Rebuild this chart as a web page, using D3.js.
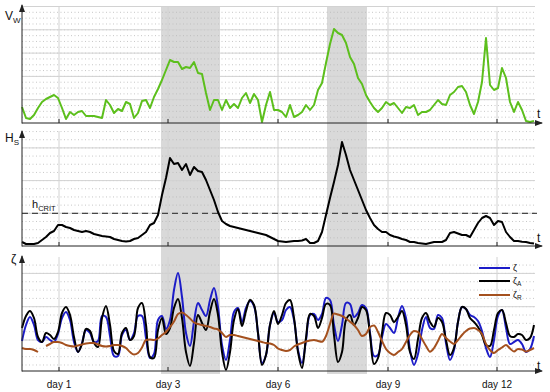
<!DOCTYPE html>
<html>
<head>
<meta charset="utf-8">
<title>wind speed, wave height and water level</title>
<script src="https://d3js.org/d3.v7.min.js"></script>
<style>
  body { margin: 0; background: #fff; }
  text { font-family: "Liberation Sans", Arial, sans-serif; fill: #111; }
</style>
</head>
<body>
<svg width="550" height="392"></svg>
<script>
// one sample every 4 time units, first sample at t = 0
const step = 4;
const dayLabels = ["day 1", "day 3", "day 6", "day 9", "day 12"];
const dayPos = [37, 146, 256, 366, 475];
const stormSpans = [[139, 198], [305, 345]];

// wind speed V_W
const vw = [16, 5, 4, 8, 15, 21, 24, 26, 28, 25, 15, 4, 11, 8, 11, 12, 7, 7, 7, 6,
  5, 23, 18, 10, 14, 12, 21, 19, 5, 10, 22, 23, 15, 26, 34, 43, 53, 63, 61, 61,
  54, 56, 55, 61, 50, 49, 30, 13, 23, 23, 13, 23, 15, 19, 15, 25, 30, 20, 29, 23,
  1, 18, 31, 13, 13, 11, 6, 18, 6, 8, 11, 18, 13, 18, 33, 40, 60, 79, 94, 90,
  88, 80, 66, 59, 45, 39, 28, 21, 15, 11, 15, 21, 18, 20, 15, 10, 16, 15, 18, 8,
  11, 11, 13, 18, 23, 19, 18, 28, 31, 36, 37, 31, 18, 9, 21, 41, 85, 38, 33, 35,
  55, 45, 21, 11, 21, 13, 2, 1, 2];

// significant wave height H_S
const hs = [4, 2, 2, 2, 3, 6, 9, 13, 15, 21, 21, 19, 18, 16, 15, 14, 15, 14, 12, 11,
  10, 9.5, 9, 7, 6, 5, 4.5, 5, 7, 8, 11, 14, 21, 23, 31, 51, 68, 88, 82, 83,
  76, 82, 71, 79, 75, 74, 66, 56, 46, 34, 25, 22, 20, 19, 18, 17, 16, 15, 14, 13,
  12, 11, 9, 7, 5, 4.5, 4, 4.5, 5, 5, 5.5, 7, 3, 3, 5, 14, 31, 48, 64, 81,
  104, 91, 76, 66, 56, 46, 36, 28, 21, 17, 14, 14, 11, 9.5, 8.5, 7, 6, 4, 4, 3,
  2.5, 2, 3, 4, 4, 4, 6, 13, 14, 12.5, 11, 11, 9, 16, 23, 28, 30, 28, 21, 25,
  24, 14, 9, 5, 5, 4.3, 4, 3, 2.5];
const hCrit = 32.7;

// water level zeta, astronomical part zeta_A, residual zeta_R
const zeta = [30, 46, 54, 46, 31, 29, 34, 31, 29, 37, 53, 59, 51, 29, 19, 28, 41, 38, 29, 30,
  55, 54, 35, 15, 15, 36, 41, 31, 38, 55, 55, 33, 13, 17, 51, 55, 42, 51, 81, 98,
  74, 38, 25, 49, 68, 61, 55, 71, 83, 64, 26, 11, 31, 59, 63, 49, 63, 70, 65, 38,
  8, 16, 46, 58, 49, 51, 61, 64, 51, 21, 8, 31, 56, 57, 51, 57, 73, 71, 46, 30,
  46, 68, 67, 54, 58, 66, 63, 38, 15, 16, 34, 47, 43, 38, 53, 65, 53, 21, 6, 17,
  41, 54, 43, 42, 56, 53, 28, 11, 21, 49, 64, 62, 56, 54, 50, 40, 23, 14, 31, 55,
  61, 43, 27, 29, 31, 27, 19, 22, 35];
const zetaA = [43, 55, 60, 53, 34, 29, 38, 36, 32, 39, 58, 64, 56, 34, 19, 27, 42, 40, 28, 24,
  53, 65, 46, 20, 17, 38, 43, 31, 35, 63, 68, 46, 14, 13, 41, 53, 37, 43, 63, 72,
  53, 19, 5, 28, 56, 48, 41, 59, 72, 56, 19, 1, 19, 51, 62, 45, 60, 71, 66, 38,
  6, 16, 46, 60, 47, 56, 68, 71, 53, 19, 3, 33, 57, 55, 43, 53, 67, 66, 36, 9,
  19, 51, 56, 46, 53, 64, 61, 36, 7, 13, 38, 58, 56, 49, 54, 60, 46, 19, 12, 32,
  53, 58, 49, 44, 53, 49, 31, 16, 23, 49, 64, 62, 53, 49, 44, 36, 26, 25, 41, 58,
  61, 48, 35, 34, 37, 36, 31, 33, 46];
const zetaR = [23, 22, 22, 21, 19, null, 25, 27, 29, 29, 28, 26, 25, 24.5, 25.5, 26.5, 27.5, 28, 28, 26.5,
  25, 24.5, 25, 26, 26, 25, 23, 19, 16.5, 18, 23.5, 31, 31.5, 31, 32.5, 36, 39, 44, 49.5, 57,
  58.5, 56, 52.5, 48.5, 47, 46, 45, 44, 42.5, 41.5, 38, 34, 36, 36, 35, 34, 33, 32, 31, 30,
  29, 28, 27.5, 26, 22.5, 21, 20, 21, 24.5, 26.5, 28, 29.5, 30.5, 31, 30, 29.3, 35, 47, 57.5, 56.5,
  55, 52.5, 49.3, 46, 41, 35, 37, 44, 45.5, 39, 30, 22, 18, 16, 19, 22, 29, 36, 40, 39,
  32, 25, 19.3, 23, 30, 37, 33, 29.5, 27, 31, 36, 40, 42.5, 43, 41, 37, 27, 21, 18, 21,
  23.5, 26, 22.5, 19.5, 22, 21.5, 19.5, 21, 23];
const legendLabels = [["ζ", ""], ["ζ", "A"], ["ζ", "R"]];

const svg = d3.select("svg");
const x = d3.scaleLinear().domain([0, 518]).range([22, 540]);

const panels = [
  { y: d3.scaleLinear().domain([0, 116]).range([123, 7]), base: 0, grid: 23.3, tip: 5 },
  { y: d3.scaleLinear().domain([0, 115]).range([246, 131]), base: 0, grid: 32.7, tip: 131 },
  { y: d3.scaleLinear().domain([0, 114]).range([371, 257]), base: 31, grid: 33.3, tip: 256 }
];

const defs = svg.append("defs");
defs.append("marker").attr("id", "arr")
  .attr("viewBox", "0 0 8 6").attr("refX", 7).attr("refY", 3)
  .attr("markerWidth", 8).attr("markerHeight", 6).attr("markerUnits", "userSpaceOnUse")
  .attr("orient", "auto")
  .append("path").attr("d", "M0,0L8,3L0,6z").attr("fill", "#222");

// storm periods, drawn across all three panels
svg.selectAll("rect.storm").data(stormSpans).join("rect")
  .attr("class", "storm")
  .attr("x", d => x(d[0])).attr("width", d => x(d[1]) - x(d[0]))
  .attr("y", 7).attr("height", 367)
  .attr("fill", "#d9d9d9");

const xEnd = x(513);
panels.forEach(p => {
  const [d0, d1] = p.y.domain();
  // minor dotted grid
  let minor = [];
  for (let v = p.base - p.grid; v <= d1 + 0.01; v += p.grid / 4) {
    if (v > d0 + 0.5) minor.push(v);
  }
  svg.append("g").selectAll("line").data(minor).join("line")
    .attr("x1", x(0)).attr("x2", xEnd)
    .attr("y1", d => p.y(d)).attr("y2", d => p.y(d))
    .attr("stroke", "#b9b9b9").attr("stroke-width", 0.8).attr("stroke-dasharray", "1,2.5");
  let major = [];
  for (let v = p.base; v <= d1 + 0.5; v += p.grid) if (v > d0 + 0.5) major.push(v);
  svg.append("g").selectAll("line").data(major).join("line")
    .attr("x1", x(0)).attr("x2", xEnd)
    .attr("y1", d => p.y(d)).attr("y2", d => p.y(d))
    .attr("stroke", "#d2d2d2").attr("stroke-width", 1);
  svg.append("g").selectAll("line").data(dayPos).join("line")
    .attr("x1", d => x(d)).attr("x2", d => x(d))
    .attr("y1", p.y(d0)).attr("y2", p.y(d1))
    .attr("stroke", "#d2d2d2").attr("stroke-width", 1);
});

const lineOf = (yScale, curve) => d3.line()
  .defined(d => d != null)
  .x((d, i) => x(i * step)).y(d => yScale(d)).curve(curve);

// panel 1: wind
svg.append("path").datum(vw).attr("fill", "none")
  .attr("stroke", "#5cbf1c").attr("stroke-width", 2).attr("stroke-linejoin", "round")
  .attr("d", lineOf(panels[0].y, d3.curveLinear));

// panel 2: wave height + critical level
svg.append("line")
  .attr("x1", x(0)).attr("x2", x(515))
  .attr("y1", panels[1].y(hCrit)).attr("y2", panels[1].y(hCrit))
  .attr("stroke", "#222").attr("stroke-width", 1).attr("stroke-dasharray", "6,4");
svg.append("path").datum(hs).attr("fill", "none")
  .attr("stroke", "#000").attr("stroke-width", 2).attr("stroke-linejoin", "round")
  .attr("d", lineOf(panels[1].y, d3.curveLinear));

// panel 3: water levels
const zCurve = d3.curveCatmullRom.alpha(0.5);
svg.append("path").datum(zeta).attr("fill", "none")
  .attr("stroke", "#1c1cc8").attr("stroke-width", 2)
  .attr("d", lineOf(panels[2].y, zCurve));
svg.append("path").datum(zetaA).attr("fill", "none")
  .attr("stroke", "#000").attr("stroke-width", 2)
  .attr("d", lineOf(panels[2].y, zCurve));
svg.append("path").datum(zetaR).attr("fill", "none")
  .attr("stroke", "#a4501e").attr("stroke-width", 2)
  .attr("d", lineOf(panels[2].y, d3.curveMonotoneX));

// axes with arrows and day ticks
panels.forEach(p => {
  const y0 = p.y(p.y.domain()[0]);
  svg.append("line").attr("x1", x(0)).attr("x2", x(0)).attr("y1", y0 + 0.5).attr("y2", p.tip)
    .attr("stroke", "#222").attr("stroke-width", 1).attr("marker-end", "url(#arr)");
  svg.append("line").attr("x1", x(0)).attr("x2", x(520)).attr("y1", y0).attr("y2", y0)
    .attr("stroke", "#222").attr("stroke-width", 1).attr("marker-end", "url(#arr)");
  svg.append("g").selectAll("line").data(dayPos).join("line")
    .attr("x1", d => x(d)).attr("x2", d => x(d)).attr("y1", y0).attr("y2", y0 - 4)
    .attr("stroke", "#222").attr("stroke-width", 1);
});

// text
function label(px, py, main, sub, size, subSize) {
  const t = svg.append("text").attr("x", px).attr("y", py).attr("font-size", size);
  t.append("tspan").text(main);
  if (sub) t.append("tspan").attr("font-size", subSize).attr("dy", size * 0.25).text(sub);
  return t;
}
label(5, 20, "V", "W", 12, 8);
label(5, 142, "H", "S", 12, 8);
label(32, 208, "h", "CRIT", 11, 7.5);
label(11, 263, "ζ", "", 12, 8);
[118, 242, 370].forEach(py => label(537, py, "t", "", 12, 8));

svg.selectAll("text.day").data(dayLabels).join("text")
  .attr("class", "day")
  .attr("x", (d, i) => x(dayPos[i])).attr("y", 388)
  .attr("text-anchor", "middle").attr("font-size", 10)
  .text(d => d);

// legend
const legendColors = ["#1c1cc8", "#000", "#a4501e"];
const legendY = [268, 281, 295];
legendLabels.forEach((l, i) => {
  svg.append("line").attr("x1", 479).attr("x2", 510)
    .attr("y1", legendY[i]).attr("y2", legendY[i])
    .attr("stroke", legendColors[i]).attr("stroke-width", 2);
  label(513, legendY[i] + 3, l[0], l[1], 9, 6.5);
});
</script>
</body>
</html>
